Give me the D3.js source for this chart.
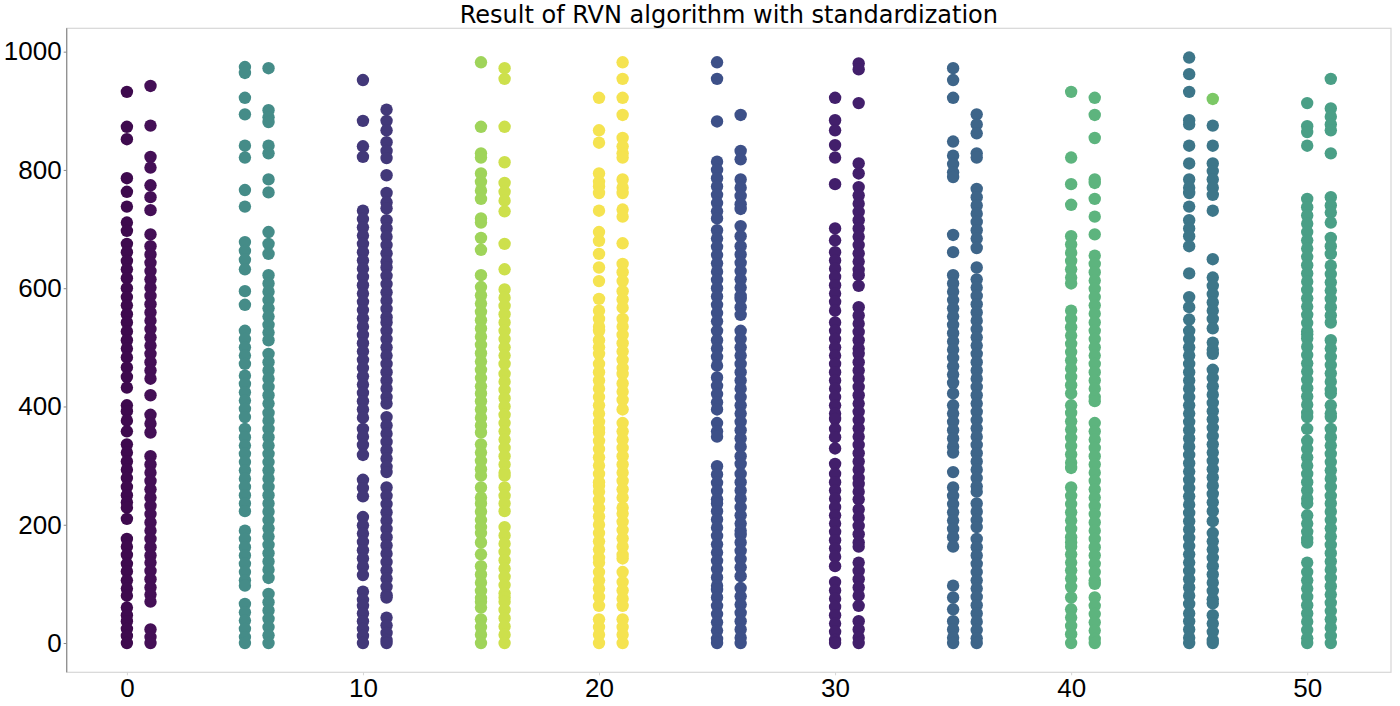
<!DOCTYPE html>
<html>
<head>
<meta charset="utf-8">
<script src="https://cdn.jsdelivr.net/npm/d3@7"></script>
<style>
  body { margin: 0; background: #fff; }
  svg { display: block; font-family: "DejaVu Sans", sans-serif; }
</style>
</head>
<body>
<svg id="chart"></svg>
<script>
// cluster columns (x position) and the y values
const columnX = [0, 1, 5, 6, 10, 11, 15, 16, 20, 21, 25, 26, 30, 31, 35, 36, 40, 41, 45, 46, 50, 51];
const columnColor = [
  "#3e0a4e", "#440f56", "#458c88", "#458c88", "#423879", "#423879",
  "#9fd45a", "#cde04c", "#f5e350", "#f5e350", "#3d5088", "#3d5088",
  "#421f6b", "#421f6b", "#3e6589", "#3e6589", "#5db47e", "#5db47e",
  "#3d7689", "#3d7689", "#4a9f86", "#4a9f86"
];

const y0 = [932, 873, 852, 786, 763, 738, 711, 697, 675, 661, 646, 632, 617, 600, 585, 571, 556, 542, 527, 512, 498, 483, 466, 450, 432, 402, 392, 376, 358, 336, 322, 307, 293, 279, 264, 250, 238, 229, 210, 176, 163, 149, 134, 121, 106, 92, 80, 60, 47, 37, 24, 12, 0];
const y1 = [942, 875, 822, 804, 774, 754, 732, 691, 671, 657, 643, 629, 615, 601, 587, 573, 559, 545, 531, 517, 503, 489, 475, 461, 447, 419, 386, 371, 356, 316, 302, 288, 274, 260, 246, 232, 218, 204, 190, 176, 162, 148, 136, 122, 108, 94, 82, 70, 23, 10, 0];
const y5 = [974, 964, 922, 894, 841, 821, 766, 738, 678, 663, 648, 632, 595, 572, 528, 514, 500, 486, 472, 452, 438, 424, 410, 396, 382, 362, 348, 334, 320, 306, 292, 278, 264, 250, 236, 223, 190, 176, 162, 148, 134, 120, 106, 97, 66, 52, 38, 24, 10, 0];
const y6 = [972, 901, 889, 881, 841, 828, 784, 762, 695, 675, 658, 622, 608, 594, 580, 566, 552, 538, 525, 512, 489, 475, 461, 447, 433, 419, 405, 389, 376, 362, 348, 334, 320, 306, 292, 278, 264, 250, 236, 222, 208, 194, 180, 166, 152, 138, 124, 110, 83, 69, 55, 41, 27, 13, 0];
const y10 = [952, 883, 840, 822, 731, 717, 703, 689, 675, 661, 647, 633, 619, 605, 591, 577, 563, 549, 535, 521, 507, 493, 479, 465, 451, 437, 423, 409, 395, 381, 362, 349, 335, 318, 276, 262, 248, 213, 199, 185, 171, 157, 143, 129, 115, 87, 73, 63, 50, 37, 24, 12, 0];
const y11 = [902, 883, 867, 847, 832, 820, 791, 761, 745, 735, 715, 701, 687, 673, 659, 645, 635, 621, 607, 593, 579, 565, 551, 542, 528, 514, 500, 486, 472, 458, 444, 430, 416, 405, 382, 368, 354, 340, 326, 312, 298, 289, 263, 249, 235, 221, 207, 193, 179, 165, 151, 137, 123, 109, 95, 81, 77, 43, 30, 17, 5, 0];
const y15 = [982, 873, 828, 821, 794, 780, 765, 751, 718, 711, 685, 665, 622, 602, 588, 574, 560, 546, 532, 518, 504, 490, 476, 462, 448, 434, 422, 409, 395, 381, 368, 356, 336, 322, 308, 294, 283, 263, 246, 236, 222, 208, 196, 186, 170, 150, 130, 116, 102, 88, 76, 70, 60, 40, 27, 14, 0];
const y16 = [972, 954, 873, 813, 778, 763, 748, 730, 675, 632, 598, 584, 570, 556, 542, 528, 514, 500, 486, 472, 455, 442, 428, 414, 400, 386, 372, 358, 344, 330, 316, 302, 288, 283, 263, 249, 236, 223, 196, 182, 168, 154, 140, 126, 112, 98, 84, 77, 70, 56, 42, 28, 14, 0];
const y20 = [922, 867, 846, 794, 780, 772, 761, 731, 695, 680, 658, 635, 612, 582, 562, 548, 535, 528, 512, 500, 489, 472, 458, 444, 430, 416, 402, 388, 374, 362, 356, 342, 328, 314, 300, 286, 272, 266, 256, 242, 228, 214, 200, 186, 172, 158, 144, 136, 120, 106, 92, 78, 63, 40, 27, 14, 0];
const y21 = [982, 954, 922, 893, 854, 840, 828, 821, 784, 770, 761, 733, 721, 676, 641, 627, 612, 595, 581, 567, 548, 535, 521, 507, 493, 479, 465, 455, 439, 425, 411, 395, 372, 358, 344, 330, 316, 302, 288, 274, 260, 246, 229, 219, 205, 191, 177, 163, 149, 143, 120, 103, 89, 75, 63, 40, 27, 14, 0];
const y25 = [982, 954, 882, 814, 800, 786, 772, 758, 744, 730, 718, 698, 684, 670, 656, 642, 628, 614, 600, 586, 572, 558, 544, 528, 512, 498, 484, 469, 449, 435, 421, 407, 395, 372, 358, 349, 299, 285, 271, 257, 243, 236, 223, 209, 195, 181, 167, 153, 139, 125, 111, 97, 90, 77, 63, 49, 35, 21, 7, 0];
const y26 = [893, 832, 818, 784, 770, 756, 742, 734, 705, 688, 671, 657, 643, 629, 615, 601, 587, 582, 568, 555, 528, 514, 500, 486, 472, 458, 444, 430, 416, 402, 388, 374, 360, 346, 332, 316, 303, 286, 272, 258, 244, 230, 216, 202, 190, 183, 170, 156, 142, 128, 113, 93, 79, 65, 51, 37, 23, 9, 0];
const y30 = [922, 884, 867, 842, 821, 776, 701, 681, 661, 647, 633, 619, 605, 591, 577, 562, 542, 528, 514, 500, 486, 472, 458, 444, 430, 416, 402, 388, 379, 362, 348, 329, 303, 286, 272, 258, 244, 230, 216, 202, 188, 174, 160, 146, 130, 103, 89, 75, 61, 47, 33, 19, 5, 0];
const y31 = [980, 970, 913, 811, 794, 771, 757, 743, 729, 715, 701, 687, 673, 659, 645, 631, 622, 604, 568, 554, 540, 526, 512, 498, 489, 475, 461, 447, 433, 419, 405, 391, 377, 363, 349, 335, 321, 307, 293, 279, 269, 256, 243, 226, 212, 198, 184, 170, 163, 136, 122, 108, 94, 80, 63, 37, 23, 9, 0];
const y35 = [972, 952, 922, 848, 824, 810, 796, 788, 690, 661, 622, 608, 594, 580, 566, 552, 538, 524, 510, 496, 482, 468, 454, 440, 422, 402, 388, 374, 360, 346, 332, 322, 289, 263, 249, 235, 221, 207, 193, 179, 163, 97, 77, 57, 37, 23, 9, 0];
const y36 = [894, 877, 862, 828, 821, 768, 754, 740, 726, 712, 698, 684, 668, 635, 615, 601, 587, 573, 559, 545, 531, 517, 503, 489, 475, 461, 447, 433, 419, 405, 391, 377, 363, 349, 335, 321, 307, 293, 279, 265, 256, 236, 222, 208, 196, 176, 162, 148, 134, 120, 106, 92, 78, 64, 50, 36, 22, 8, 0];
const y40 = [932, 821, 776, 741, 688, 674, 660, 646, 632, 618, 608, 562, 548, 534, 520, 506, 492, 478, 464, 450, 436, 422, 402, 389, 375, 361, 347, 333, 319, 305, 296, 263, 249, 235, 221, 207, 193, 179, 170, 163, 150, 136, 123, 109, 95, 77, 57, 43, 29, 15, 0];
const y41 = [922, 893, 854, 784, 778, 751, 721, 691, 655, 641, 627, 613, 599, 585, 571, 557, 542, 528, 514, 500, 486, 472, 458, 444, 430, 416, 409, 372, 358, 344, 330, 316, 302, 288, 274, 260, 246, 232, 218, 204, 190, 176, 162, 148, 134, 120, 106, 100, 77, 63, 49, 35, 21, 7, 0];
const y45 = [990, 962, 932, 884, 877, 841, 811, 784, 770, 761, 738, 715, 701, 688, 671, 625, 585, 568, 547, 528, 514, 500, 486, 472, 458, 444, 430, 416, 402, 388, 374, 360, 346, 332, 318, 304, 290, 276, 262, 248, 234, 220, 206, 192, 178, 164, 150, 136, 122, 108, 94, 80, 66, 50, 37, 23, 9, 0];
const y46 = [875, 841, 811, 798, 784, 770, 758, 731, 649, 618, 604, 590, 576, 562, 548, 532, 508, 496, 489, 462, 448, 434, 420, 406, 392, 378, 364, 350, 336, 322, 308, 294, 280, 266, 252, 238, 223, 206, 186, 172, 158, 144, 130, 116, 102, 88, 74, 67, 47, 33, 19, 5, 0];
const y50 = [913, 874, 864, 841, 751, 737, 723, 709, 695, 681, 667, 653, 639, 625, 611, 597, 583, 569, 555, 541, 527, 522, 515, 501, 487, 473, 459, 445, 431, 417, 403, 389, 382, 362, 342, 328, 314, 300, 286, 272, 258, 244, 236, 216, 202, 188, 176, 170, 136, 120, 106, 92, 78, 64, 50, 36, 22, 8, 0];
const y51 = [954, 904, 890, 877, 867, 828, 754, 740, 728, 711, 685, 671, 658, 638, 624, 610, 596, 582, 568, 554, 542, 512, 498, 484, 470, 456, 442, 428, 422, 402, 388, 382, 362, 348, 334, 320, 306, 292, 278, 264, 249, 236, 222, 208, 194, 180, 166, 152, 138, 124, 110, 96, 82, 68, 54, 40, 26, 12, 0];

// one point in column 46 belongs to another cluster
const strayPoint = { x: 46, y: 920, color: "#7cc866" };

const columnY = [y0, y1, y5, y6, y10, y11, y15, y16, y20, y21, y25, y26, y30, y31, y35, y36, y40, y41, y45, y46, y50, y51];
const xTicks = [0, 10, 20, 30, 40, 50];
const yTicks = [0, 200, 400, 600, 800, 1000];
const title = "Result of RVN algorithm with standardization";

const points = [];
columnX.forEach((cx, i) => {
  columnY[i].forEach((v) => points.push({ x: cx, y: v, color: columnColor[i] }));
});
points.push(strayPoint);

const svgW = 1400;
const svgH = 706;
const margin = { top: 28.3, right: 9, bottom: 33.7, left: 66.7 };

const svg = d3.select("#chart").attr("width", svgW).attr("height", svgH);

const x = d3.scaleLinear().domain([-2.55, 53.55]).range([margin.left, svgW - margin.right]);
const y = d3.scaleLinear().domain([-49.5, 1039.5]).range([svgH - margin.bottom, margin.top]);

// frame: light box, darker left spine
svg.append("rect")
  .attr("x", margin.left)
  .attr("y", margin.top)
  .attr("width", svgW - margin.left - margin.right)
  .attr("height", svgH - margin.top - margin.bottom)
  .attr("fill", "none")
  .attr("stroke", "#d6d6d6")
  .attr("stroke-width", 1.2);
svg.append("line")
  .attr("x1", margin.left).attr("x2", margin.left)
  .attr("y1", margin.top).attr("y2", svgH - margin.bottom)
  .attr("stroke", "#8a8a8a")
  .attr("stroke-width", 1.2);

svg.append("g")
  .selectAll("circle")
  .data(points)
  .join("circle")
  .attr("cx", (d) => x(d.x))
  .attr("cy", (d) => y(d.y))
  .attr("r", 6.2)
  .attr("fill", (d) => d.color);

function xAxis(g) {
  g.attr("transform", `translate(0, ${svgH - margin.bottom})`)
    .call(d3.axisBottom(x).tickValues(xTicks).tickSize(3).tickPadding(3))
    .call((g) => g.select(".domain").remove())
    .call((g) => g.selectAll(".tick line").attr("stroke", "#d6d6d6"))
    .selectAll("text")
    .attr("font-size", "26px")
    .attr("fill", "#000");
}
function yAxis(g) {
  g.attr("transform", `translate(${margin.left}, 0)`)
    .call(d3.axisLeft(y).tickValues(yTicks).tickFormat(d3.format("d")).tickSize(3).tickPadding(2))
    .call((g) => g.select(".domain").remove())
    .call((g) => g.selectAll(".tick line").attr("stroke", "#8a8a8a"))
    .selectAll("text")
    .attr("font-size", "26px")
    .attr("fill", "#000");
}
svg.append("g").call(xAxis);
svg.append("g").call(yAxis);

svg.append("text")
  .attr("x", (margin.left + svgW - margin.right) / 2)
  .attr("y", 23)
  .attr("text-anchor", "middle")
  .attr("font-size", "24px")
  .text(title);
</script>
</body>
</html>
